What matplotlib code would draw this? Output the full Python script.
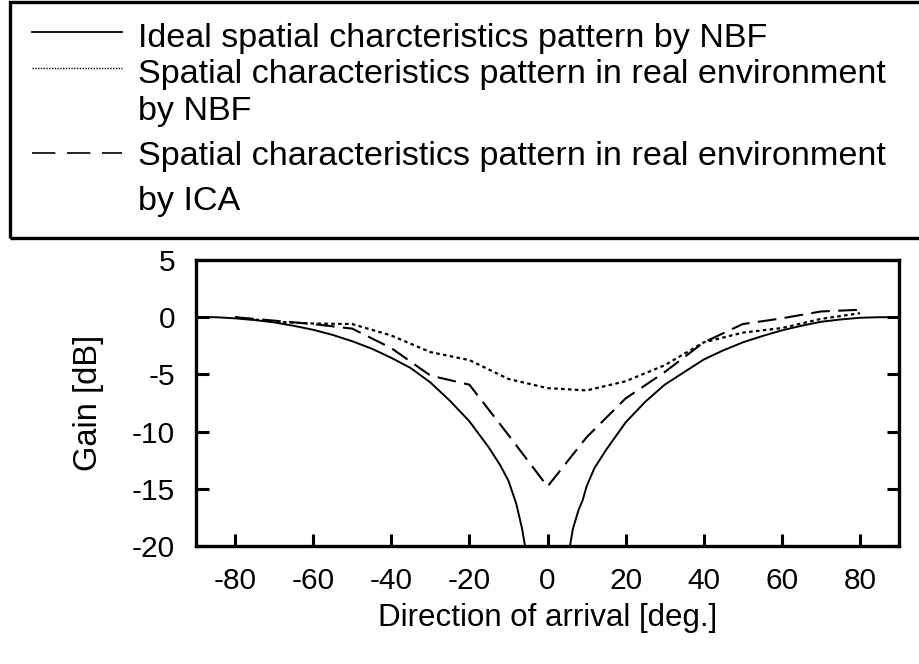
import matplotlib
matplotlib.use("Agg")
import matplotlib.pyplot as plt
from matplotlib.lines import Line2D
from matplotlib.patches import Rectangle

plt.rcParams['font.family'] = ['Liberation Sans', 'DejaVu Sans']
plt.rcParams['axes.unicode_minus'] = False

# Ideal spatial characteristics pattern by NBF (solid)
ideal_deg = [-90, -85, -80, -75, -70, -65, -60, -55, -50, -45, -40, -35, -30, -25,
             -20, -15, -12, -10, -8, -6.5, -5.5,
             5.5, 6.5, 8, 9, 10, 12, 15, 20, 25, 30, 35, 40, 45, 50, 55, 60, 65,
             70, 75, 80, 85, 90]
ideal_db = [0, 0, -0.1, -0.25, -0.45, -0.75, -1.1, -1.55, -2.1, -2.75, -3.55, -4.45,
            -5.7, -7.3, -9.1, -11.4, -13.0, -14.3, -16.3, -18.5, -20.5,
            -20.5, -18.5, -16.8, -16.0, -14.8, -13.2, -11.6, -9.2, -7.4, -5.9, -4.8,
            -3.7, -2.9, -2.2, -1.65, -1.15, -0.75, -0.4, -0.2, -0.05, 0, 0]

# Real environment by NBF (dotted)
nbf_deg = [-80, -70, -60, -50, -40, -30, -20, -10, 0, 10, 20, 30, 40, 50, 60, 70, 80]
nbf_db = [0, -0.4, -0.55, -0.6, -1.6, -3.05, -3.75, -5.4, -6.2, -6.4, -5.6, -4.2,
          -2.2, -1.35, -0.95, -0.15, 0.35]

# Real environment by ICA (dashed)
ica_deg = [-80, -70, -60, -50, -40, -30, -20, -10, 0, 10, 20, 30, 40, 50, 60, 70, 80]
ica_db = [0, -0.3, -0.6, -1.0, -2.7, -5.1, -5.9, -10.3, -14.8, -10.5, -7.1, -4.8,
          -2.2, -0.6, -0.1, 0.5, 0.65]

legend_labels = ["Ideal spatial charcteristics pattern by NBF",
                 "Spatial characteristics pattern in real environment\nby NBF",
                 "Spatial characteristics pattern in real environment\nby ICA"]

W, H = 919, 664
fig = plt.figure(figsize=(W / 100, H / 100), dpi=100)
ax = fig.add_axes([196 / W, 1 - 546 / H, 703 / W, 286 / H])

ax.plot(ideal_deg, ideal_db, color='black', lw=1.4, solid_joinstyle='round')
ax.plot(nbf_deg, nbf_db, color='black', lw=1.6, linestyle=(0, (1.6, 1.5)))
ax.plot(ica_deg, ica_db, color='black', lw=1.5, linestyle=(0, (9, 4)))

ax.set_xlim(-90, 90)
ax.set_ylim(-20, 5)
ax.set_xticks([-80, -60, -40, -20, 0, 20, 40, 60, 80])
ax.set_yticks([-20, -15, -10, -5, 0, 5])
ax.tick_params(direction='in', length=9, width=2.2, labelsize=21.5, pad=15,
               right=True, top=False)
for s in ax.spines.values():
    s.set_linewidth(2.4)

ax.set_xlabel("Direction of arrival [deg.]", fontsize=22.5, labelpad=6)
ax.set_ylabel("Gain [dB]", fontsize=23.5, labelpad=20)

# Legend box drawn in figure pixel coordinates
def fx(px):
    return px / W

def fy(py):
    return 1 - py / H

rect = Rectangle((fx(10), fy(238)), fx(930) - fx(10), fy(2) - fy(238),
                 transform=fig.transFigure, fill=False, edgecolor='black',
                 linewidth=2.4, clip_on=False)
fig.add_artist(rect)

handles = [
    dict(y=32, ls='-', lw=1.3),
    dict(y=68, ls=(0, (1, 1)), lw=1.0),
    dict(y=153, ls=(0, (14, 7)), lw=1.2),
]
for h in handles:
    fig.add_artist(Line2D([fx(32), fx(122)], [fy(h['y']), fy(h['y'])],
                          transform=fig.transFigure, color='black',
                          lw=h['lw'], linestyle=h['ls']))

text_rows = [
    (legend_labels[0], 47),
    (legend_labels[1].split('\n')[0], 83),
    (legend_labels[1].split('\n')[1], 120),
    (legend_labels[2].split('\n')[0], 165),
    (legend_labels[2].split('\n')[1], 210),
]
for txt, base in text_rows:
    fig.text(fx(138), fy(base), txt, fontsize=24.6, va='baseline', ha='left')

fig.savefig("out.png", dpi=100)
